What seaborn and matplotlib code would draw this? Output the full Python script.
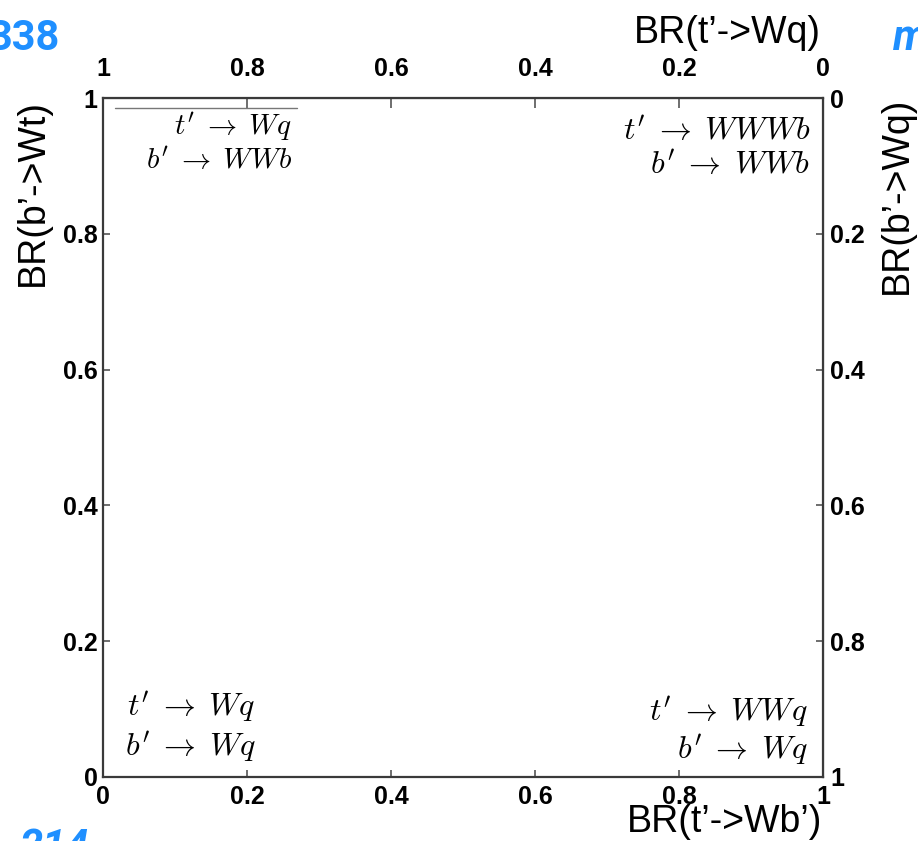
import matplotlib
matplotlib.use("Agg")
import matplotlib.pyplot as plt
import seaborn as sns
import numpy as np

# ---- data ----
tick_values = [0, 0.2, 0.4, 0.6, 0.8, 1]
bottom_tick_labels = ["0", "0.2", "0.4", "0.6", "0.8", "1"]
top_tick_labels = ["1", "0.8", "0.6", "0.4", "0.2", "0"]
left_tick_labels = ["0", "0.2", "0.4", "0.6", "0.8", "1"]
right_tick_labels = ["1", "0.8", "0.6", "0.4", "0.2", "0"]

corner_text_tl = [r"$t' \;\rightarrow\; Wq$", r"$b' \;\rightarrow\; WWb$"]
corner_text_tr = [r"$t' \;\rightarrow\; WWWb$", r"$b' \;\rightarrow\; WWb$"]
corner_text_bl = [r"$t' \;\rightarrow\; Wq$", r"$b' \;\rightarrow\; Wq$"]
corner_text_br = [r"$t' \;\rightarrow\; WWq$", r"$b' \;\rightarrow\; Wq$"]

stray_line_x = [0.017, 0.269]
stray_line_y = [0.985, 0.985]

# ---- style ----
sns.set_style("ticks")
plt.rcParams['font.family'] = ['Liberation Sans', 'DejaVu Sans']
plt.rcParams['mathtext.fontset'] = 'cm'

W, H = 918, 841
fig = plt.figure(figsize=(W / 100, H / 100), dpi=100)
ax = fig.add_axes([103 / W, (H - 777) / H, (823 - 103) / W, (777 - 98) / H])

sns.lineplot(x=stray_line_x, y=stray_line_y, ax=ax, color="#777777", lw=1.0)

ax.set_xlim(0, 1)
ax.set_ylim(0, 1)
spine_color = "#3a3a3a"
for s in ax.spines.values():
    s.set_color(spine_color)
    s.set_linewidth(1.6)
    s.set_visible(True)

tick_font = dict(fontsize=18, fontweight='bold', color='black')

ax.set_xticks(tick_values)
ax.set_xticklabels(bottom_tick_labels, **tick_font)
ax.set_yticks(tick_values)
ax.set_yticklabels(left_tick_labels, **tick_font)
ax.tick_params(axis='both', direction='in', length=5, width=1.2, color="#555555")
ax.tick_params(axis='x', pad=6)
ax.tick_params(axis='y', pad=4)

top = ax.secondary_xaxis('top')
top.set_xticks(tick_values)
top.set_xticklabels(top_tick_labels, **tick_font)
top.tick_params(direction='in', length=7, width=1.2, color="#555555", pad=12)

right = ax.secondary_yaxis('right')
right.set_yticks(tick_values)
right.set_yticklabels(right_tick_labels, **tick_font)
right.tick_params(direction='in', length=5, width=1.2, color="#555555", pad=5)

# ---- corner annotations ----
def put(lines, x, ys, ha, fs):
    for txt, y in zip(lines, ys):
        ax.text(x, y, txt, ha=ha, va='center', fontsize=fs, color='black')

put(corner_text_tl, 0.262, [0.958, 0.907], 'right', 21)
put(corner_text_tr, 0.982, [0.950, 0.900], 'right', 23)
put(corner_text_bl, 0.212, [0.103, 0.045], 'right', 23)
put(corner_text_br, 0.979, [0.097, 0.040], 'right', 23)

# ---- axis titles ----
lab = dict(fontsize=27, color='black')
fig.text(727 / W, 1 - 33 / H, "BR(t\u2019->Wq)", ha='center', va='center', **lab)
fig.text(725 / W, 1 - 822 / H, "BR(t\u2019->Wb\u2019)", ha='center', va='center', **lab)
fig.text(33 / W, 1 - 192 / H, "BR(b\u2019->Wt)", ha='center', va='center', rotation=90, **lab)
fig.text(897 / W, 1 - 195 / H, "BR(b\u2019->Wq)", ha='center', va='center', rotation=90, **lab)

# ---- cut-off blue texts ----
blue = "#1f8fff"
fig.text(60 / W, 1 - 38 / H, "338", ha='right', va='center', fontsize=30,
         color=blue, family=['Roboto', 'DejaVu Sans'], fontweight='bold')
fig.text(893 / W, 1 - 38 / H, "m", ha='left', va='center', fontsize=30,
         color=blue, family=['Roboto', 'DejaVu Sans'], fontstyle='italic', fontweight='bold')
fig.text(20 / W, 1 - 827 / H, "214", ha='left', va='top', fontsize=30,
         color=blue, family=['Roboto', 'DejaVu Sans'], fontstyle='italic', fontweight='bold')

fig.savefig("out.png", dpi=100)
